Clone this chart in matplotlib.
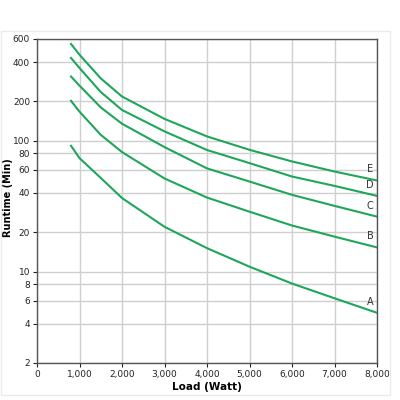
import matplotlib
matplotlib.use("Agg")
import matplotlib.pyplot as plt
from matplotlib.ticker import FixedLocator, FuncFormatter, NullLocator
from matplotlib.patches import Rectangle

# load points (W)
load = [800, 1000, 1500, 2000, 3000, 4000, 5000, 6000, 7000, 8000]

# runtime (min) for each battery configuration
runtime_a = [91.6, 73.7, 52, 36.5, 22, 15.1, 10.9, 8.1, 6.25, 4.84]
runtime_b = [202, 167, 111, 82, 51.5, 36.8, 28.7, 22.5, 18.5, 15.3]
runtime_c = [310, 264, 180, 135, 89.5, 61.5, 48.8, 38.6, 31.8, 26.3]
runtime_d = [430, 360, 236, 172, 118, 85, 67.5, 53.3, 45.2, 37.9]
runtime_e = [550, 455, 300, 218, 147, 108, 85.3, 69.5, 58.2, 49.7]

series = {"A": runtime_a, "B": runtime_b, "C": runtime_c,
          "D": runtime_d, "E": runtime_e}

y_ticks = [2, 4, 6, 8, 10, 20, 40, 60, 80, 100, 200, 400, 600]
x_ticks = [0, 1000, 2000, 3000, 4000, 5000, 6000, 7000, 8000]

green = "#1fa65a"

fig = plt.figure(figsize=(4, 4), dpi=100)
fig.patch.set_facecolor("white")
# faint panel border around the chart
fig.patches.append(Rectangle((0.003, 0.012), 0.972, 0.91, transform=fig.transFigure,
                             facecolor="none", edgecolor="#ebebeb", lw=1.0))

ax = fig.add_axes([0.0925, 0.0925, 0.85, 0.81])
ax.set_yscale("log")
ax.set_xlim(0, 8000)
ax.set_ylim(2, 600)

for name, vals in series.items():
    ax.plot(load, vals, color=green, lw=1.5)
    ax.annotate(name, (load[-1], vals[-1]), xytext=(-5, 8), textcoords="offset points",
                ha="center", va="center", fontsize=7, color="#333333")

ax.yaxis.set_major_locator(FixedLocator(y_ticks))
ax.yaxis.set_minor_locator(NullLocator())
ax.yaxis.set_major_formatter(FuncFormatter(lambda v, p: f"{v:g}"))
ax.xaxis.set_major_locator(FixedLocator(x_ticks))
ax.xaxis.set_major_formatter(FuncFormatter(lambda v, p: f"{int(v):,}"))

ax.grid(True, color="#cfcfcf", lw=1.0)
ax.set_axisbelow(True)
for s in ax.spines.values():
    s.set_color("#555555")
    s.set_linewidth(1.0)
ax.tick_params(labelsize=6.5, colors="#222222", length=3, width=0.8, pad=2)

ax.set_xlabel("Load (Watt)", fontsize=7.5, fontweight="bold", labelpad=2)
ax.set_ylabel("Runtime (Min)", fontsize=7, fontweight="bold")
ax.yaxis.set_label_coords(-0.07, 0.51)

fig.savefig("out.png", dpi=100)
